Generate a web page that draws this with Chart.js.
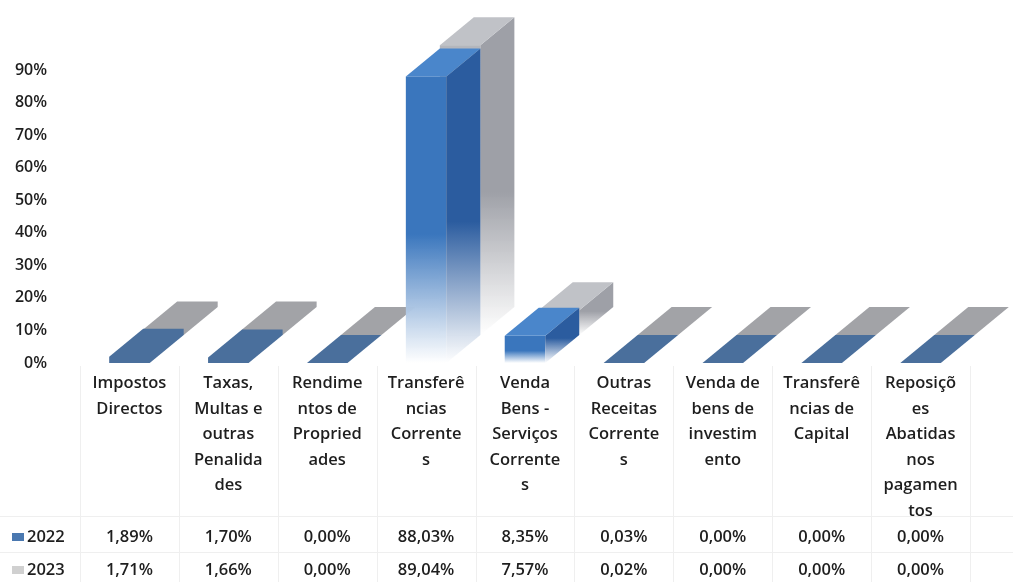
<!DOCTYPE html>
<html>
<head>
<meta charset="utf-8">
<title>Receitas 2022 / 2023</title>
<script src="https://cdn.jsdelivr.net/npm/chart.js"></script>
<style>
    body {
        margin: 0;
        background: #fff;
        font-family: "Open Sans", Arial, sans-serif;
        color: #1e1e1e;
    }
    .wrap {
        position: relative;
        width: 1013px;
        height: 582px;
        overflow: hidden;
    }
    #chart { position: absolute; left: 0; top: 0; }
    .cell {
        position: absolute;
        text-align: center;
        font-size: 16.5px;
        font-weight: 600;
        line-height: 25.5px;
        white-space: nowrap;
    }
    .vline, .hline { position: absolute; background: #efefef; }
    .key {
        display: inline-block;
        width: 12px;
        height: 8px;
        margin-right: 3px;
        vertical-align: 1px;
    }
</style>
</head>
<body>
<div class="wrap" id="wrap">
    <canvas id="chart" width="1013" height="582"></canvas>
</div>

<script>
    // category names, wrapped the way the table shows them
    const categories = [
        ['Impostos', 'Directos'],
        ['Taxas,', 'Multas e', 'outras', 'Penalida', 'des'],
        ['Rendime', 'ntos de', 'Propried', 'ades'],
        ['Transferê', 'ncias', 'Corrente', 's'],
        ['Venda', 'Bens -', 'Serviços', 'Corrente', 's'],
        ['Outras', 'Receitas', 'Corrente', 's'],
        ['Venda de', 'bens de', 'investim', 'ento'],
        ['Transferê', 'ncias de', 'Capital'],
        ['Reposiçõ', 'es', 'Abatidas', 'nos', 'pagamen', 'tos']
    ];
    const years = ['2022', '2023'];
    const values2022 = [1.89, 1.70, 0.00, 88.03, 8.35, 0.03, 0.00, 0.00, 0.00];
    const values2023 = [1.71, 1.66, 0.00, 89.04, 7.57, 0.02, 0.00, 0.00, 0.00];
    const yMax = 90;
    const yStep = 10;

    // depth of one row of bars (3d look)
    const DX = 34, DY = -28;

    const faces = [
        { front: '#3a76bd', side: '#2b5c9f', top: '#4a86cb', flat: '#4a6f9c', key: '#4a78b0' },
        { front: '#b4b6bc', side: '#9ea0a7', top: '#c0c2c7', flat: '#a2a3a7', key: '#d0d0d0' }
    ];

    function fmt(v) {
        return v.toFixed(2).replace('.', ',') + '%';
    }

    function fade(ctx, y0, y1, color) {
        const g = ctx.createLinearGradient(0, y0, 0, y1);
        g.addColorStop(0, color);
        g.addColorStop(0.55, color);
        g.addColorStop(1, 'rgba(255,255,255,0.95)');
        return g;
    }

    function poly(ctx, pts, fill) {
        ctx.beginPath();
        ctx.moveTo(pts[0][0], pts[0][1]);
        for (let k = 1; k < pts.length; k++) ctx.lineTo(pts[k][0], pts[k][1]);
        ctx.closePath();
        ctx.fillStyle = fill;
        ctx.fill();
    }

    const bars3d = {
        id: 'bars3d',
        afterDatasetsDraw(chart) {
            const ctx = chart.ctx;
            // back row first so the front row covers it
            for (let d = chart.data.datasets.length - 1; d >= 0; d--) {
                const meta = chart.getDatasetMeta(d);
                const c = faces[d];
                const ox = DX * d, oy = DY * d;
                meta.data.forEach(bar => {
                    const w = bar.width;
                    const x0 = bar.x - w / 2 + ox, x1 = bar.x + w / 2 + ox;
                    const top = bar.y + oy, base = bar.base + oy;
                    const h = base - top;
                    ctx.save();
                    if (h < 12) {
                        poly(ctx, [[x0, base], [x1, base], [x1 + DX, base + DY], [x1 + DX, top + DY], [x0 + DX, top + DY], [x0, top]], c.flat);
                    } else {
                        ctx.fillStyle = fade(ctx, top, base, c.front);
                        ctx.fillRect(x0, top, w, h);
                        poly(ctx, [[x1, top], [x1 + DX, top + DY], [x1 + DX, base + DY], [x1, base]],
                            fade(ctx, top + DY, base, c.side));
                        poly(ctx, [[x0, top], [x0 + DX, top + DY], [x1 + DX, top + DY], [x1, top]], c.top);
                    }
                    ctx.restore();
                });
            }
        }
    };

    const chart = new Chart(document.getElementById('chart'), {
        type: 'bar',
        data: {
            labels: categories.map(c => c.join('')),
            datasets: [
                { label: years[0], data: values2022 },
                { label: years[1], data: values2023 }
            ].map(ds => Object.assign(ds, {
                backgroundColor: 'rgba(0,0,0,0)',
                borderWidth: 0,
                grouped: false,
                barPercentage: 0.41,
                categoryPercentage: 1
            }))
        },
        options: {
            responsive: false,
            animation: false,
            devicePixelRatio: 1,
            layout: { padding: { top: 70, bottom: 219, left: 0, right: 43 } },
            plugins: {
                legend: { display: false },
                tooltip: { enabled: false }
            },
            scales: {
                x: { display: false },
                y: {
                    min: 0,
                    max: yMax,
                    afterFit: s => { s.width = 80; },
                    grid: { display: false },
                    border: { display: false },
                    ticks: {
                        stepSize: yStep,
                        padding: 25,
                        color: '#1e1e1e',
                        font: { family: '"Open Sans", Arial, sans-serif', size: 16, weight: '600' },
                        callback: v => v + '%'
                    }
                }
            }
        },
        plugins: [bars3d]
    });

    // data table under the plot
    const wrap = document.getElementById('wrap');
    const area = chart.chartArea;
    const colW = (area.right - area.left) / categories.length;
    const series = [values2022, values2023];
    const rowY = [536, 569];

    function add(cls, style, html) {
        const el = document.createElement('div');
        el.className = cls;
        Object.assign(el.style, style);
        if (html !== undefined) el.innerHTML = html;
        wrap.appendChild(el);
        return el;
    }

    for (let i = 0; i <= categories.length; i++) {
        add('vline', { left: Math.round(area.left + i * colW) + 'px', top: '366px', width: '1px', height: '216px' });
    }
    add('hline', { left: '0px', top: '516px', width: '1013px', height: '1px' });
    add('hline', { left: '0px', top: '552px', width: '1013px', height: '1px' });

    categories.forEach((lines, i) => {
        const cx = chart.scales.x.getPixelForValue(i);
        add('cell', { left: (cx - colW / 2) + 'px', top: '369px', width: colW + 'px' }, lines.join('<br>'));
        series.forEach((vals, r) => {
            add('cell', { left: (cx - colW / 2) + 'px', top: (rowY[r] - 13) + 'px', width: colW + 'px' }, fmt(vals[i]));
        });
    });

    years.forEach((y, r) => {
        add('cell', { left: '12px', top: (rowY[r] - 13) + 'px', width: '68px', textAlign: 'left' },
            '<span class="key" style="background:' + faces[r].key + '"></span>' + y);
    });
</script>
</body>
</html>
